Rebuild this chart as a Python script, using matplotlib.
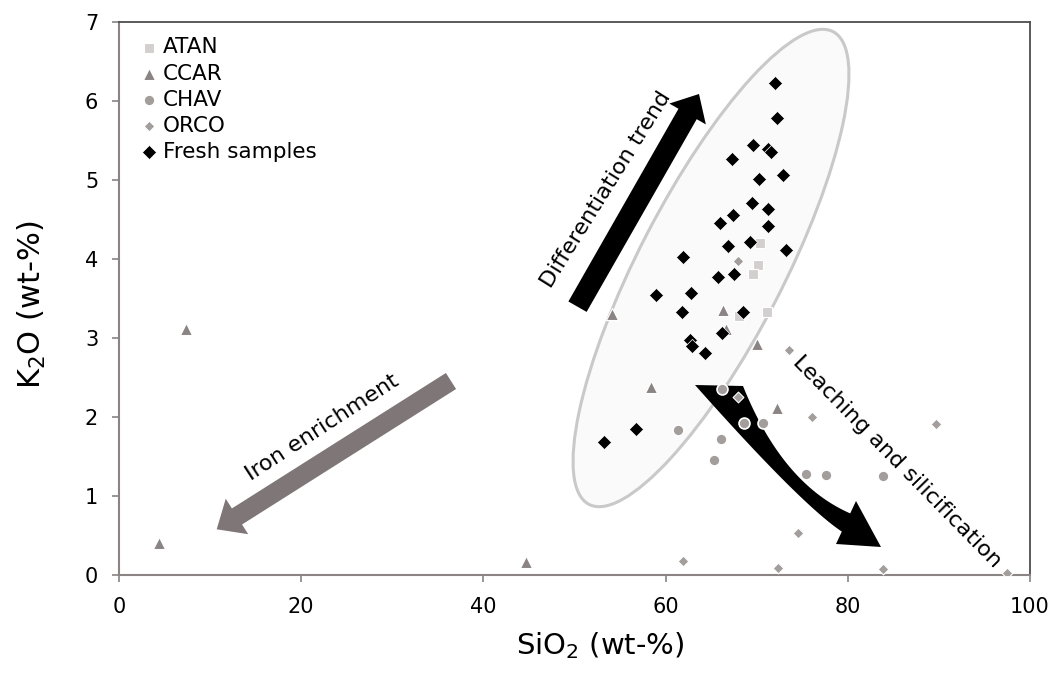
import numpy as np
import matplotlib
matplotlib.use('Agg')
import matplotlib.pyplot as plt
from matplotlib.patches import Ellipse, Polygon
from matplotlib import transforms

W, H = 1051, 680

# --- data (SiO2 wt-%, K2O wt-%) ---
atan_sio2 = [70.4, 70.1, 69.6, 71.1, 68.1]
atan_k2o = [4.20, 3.92, 3.81, 3.33, 3.28]

ccar_sio2 = [54.1, 66.3, 66.6, 70.0, 58.4, 72.2, 7.4, 4.4, 44.7]
ccar_k2o = [3.31, 3.35, 3.11, 2.92, 2.38, 2.11, 3.12, 0.41, 0.16]

chav_sio2 = [66.2, 68.6, 70.7, 61.4, 66.1, 65.3, 75.4, 77.6, 83.9]
chav_k2o = [2.36, 1.93, 1.92, 1.84, 1.72, 1.46, 1.28, 1.27, 1.25]

orco_sio2 = [67.9, 73.6, 67.9, 76.1, 89.7, 74.5, 61.9, 72.3, 83.9, 97.5]
orco_k2o = [3.97, 2.85, 2.25, 2.00, 1.91, 0.53, 0.18, 0.085, 0.07, 0.03]

fresh_sio2 = [72.0, 72.2, 69.6, 71.2, 71.6, 67.3, 72.9, 70.3, 69.5, 71.2,
              67.4, 66.0, 71.2, 66.8, 69.3, 73.2, 61.9, 65.7, 67.5, 58.9,
              62.8, 61.8, 68.5, 66.2, 62.7, 62.9, 64.3, 53.2, 56.8]
fresh_k2o = [6.23, 5.78, 5.44, 5.39, 5.36, 5.27, 5.06, 5.01, 4.71, 4.63,
             4.56, 4.45, 4.42, 4.16, 4.21, 4.11, 4.02, 3.77, 3.81, 3.54,
             3.57, 3.33, 3.33, 3.06, 2.98, 2.90, 2.81, 1.68, 1.85]

plt.rcParams['font.family'] = 'DejaVu Sans'

fig = plt.figure(figsize=(W / 100, H / 100), dpi=100)
ax = fig.add_axes([119 / W, 105 / H, 911 / W, 553 / H])
ax.set_xlim(0, 100)
ax.set_ylim(0, 7)


def to_data(pts):
    # picture position (pixels, y down) -> data coordinates
    pts = np.asarray(pts, float)
    disp = np.column_stack([pts[:, 0], H - pts[:, 1]])
    return ax.transData.inverted().transform(disp)


def block_arrow(tail, tip, w, hw, hl):
    t = np.array(tail, float)
    p = np.array(tip, float)
    d = (p - t) / np.hypot(*(p - t))
    n = np.array([-d[1], d[0]])
    b = p - hl * d
    return [t + n * w / 2, b + n * w / 2, b + n * hw / 2, p,
            b - n * hw / 2, b - n * w / 2, t - n * w / 2]


def bez(p0, p1, p2, num=40):
    s = np.linspace(0, 1, num)[:, None]
    return ((1 - s) ** 2 * np.array(p0) + 2 * (1 - s) * s * np.array(p1)
            + s ** 2 * np.array(p2))


# ellipse around the fresh samples
cx, cy = to_data([(711, 268)])[0]
etrans = fig.dpi_scale_trans + transforms.ScaledTranslation(cx, cy, ax.transData)
ax.add_patch(Ellipse((0, 0), 5.32, 1.45, angle=62.7, transform=etrans,
                     fc='#fafafa', ec='#c9c9c9', lw=2.2, zorder=1))

# arrows
diff_arrow = block_arrow((577.5, 306.7), (699, 94), 21, 42, 23)
ax.add_patch(Polygon(to_data(diff_arrow), closed=True, fc='black', ec='none', zorder=2))

iron_arrow = block_arrow((451, 381), (216.7, 529.3), 19, 42, 24)
ax.add_patch(Polygon(to_data(iron_arrow), closed=True, fc='#7f7777', ec='none', zorder=2))

leach = np.vstack([bez((695, 385), (800.9, 504.3), (841.8, 531.6)),
                   [(836, 544), (881, 547), (856, 501)],
                   bez((850.2, 513.4), (782.4, 483.8), (743, 386))])
ax.add_patch(Polygon(to_data(leach), closed=True, fc='black', ec='none', zorder=2))

# arrow labels
for txt, pos, rot in [('Differentiation trend', (606, 190), 58),
                      ('Iron enrichment', (322, 428), 33),
                      ('Leaching and silicification', (897, 462), -45.5)]:
    x, y = to_data([pos])[0]
    ax.text(x, y, txt, rotation=rot, rotation_mode='anchor', ha='center',
            va='center', fontsize=16, zorder=3)

# series
ax.scatter(atan_sio2, atan_k2o, marker='s', s=50, c='#d3cfce', edgecolors='white',
           linewidths=0.8, label='ATAN', zorder=4)
ax.scatter(ccar_sio2, ccar_k2o, marker='^', s=75, c='#8b8484', edgecolors='white',
           linewidths=0.8, label='CCAR', zorder=4)
ax.scatter(chav_sio2, chav_k2o, marker='o', s=62, c='#a39d9c', edgecolors='white',
           linewidths=1.2, label='CHAV', zorder=4)
ax.scatter(orco_sio2, orco_k2o, marker='D', s=30, c='#a39d9c', edgecolors='white',
           linewidths=0.8, label='ORCO', zorder=4)
ax.scatter(fresh_sio2, fresh_k2o, marker='D', s=52, c='black', edgecolors='white',
           linewidths=0.5, label='Fresh samples', zorder=5)

ax.set_xticks([0, 20, 40, 60, 80, 100])
ax.set_yticks(range(0, 8))
ax.tick_params(direction='out', length=5, width=1.2, color='#8a8484', labelsize=15)
ax.tick_params(axis='x', pad=11)
ax.tick_params(axis='y', pad=10)

for side in ['left', 'bottom']:
    ax.spines[side].set_color('#8a8484')
    ax.spines[side].set_linewidth(1.5)
for side in ['top', 'right']:
    ax.spines[side].set_color('#4d4d4d')
    ax.spines[side].set_linewidth(1.3)

ax.set_xlabel('SiO$_2$ (wt-%)', fontsize=21)
ax.set_ylabel('K$_2$O (wt-%)', fontsize=22)
ax.xaxis.set_label_coords(0.528, -0.10)
ax.yaxis.set_label_coords(-0.078, 0.488)

ax.legend(loc='upper left', bbox_to_anchor=(0.023, 0.972), frameon=False, fontsize=15.5,
          handlelength=0.8, handletextpad=0.25, labelspacing=0.28, borderpad=0,
          borderaxespad=0, markerscale=1.0)

fig.savefig('out.png', dpi=100)
